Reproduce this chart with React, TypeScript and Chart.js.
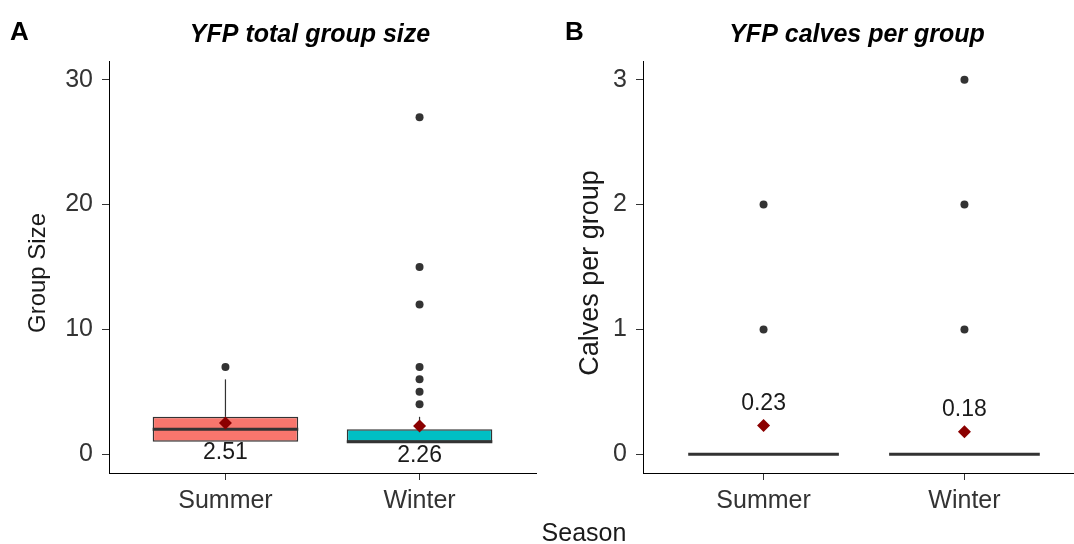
import React, { useEffect, useRef } from 'react';
import { Chart, registerables } from 'chart.js';

Chart.register(...registerables);

// ---------- data ----------
const categories = ['Summer', 'Winter'];
const boxColors = ['#F8766D', '#00BFC4'];

// Panel A: YFP total group size
const sizeQ1 = [1, 1];
const sizeMedian = [2, 1];
const sizeQ3 = [3, 2];
const sizeWhiskerLow = [1, 1];
const sizeWhiskerHigh = [6, 3];
const sizeOutliersSummer = [7];
const sizeOutliersWinter = [4, 5, 6, 7, 12, 15, 27];
const sizeMeans = [2.51, 2.26];
const sizeTicks = [0, 10, 20, 30];

// Panel B: YFP calves per group
const calfQ1 = [0, 0];
const calfMedian = [0, 0];
const calfQ3 = [0, 0];
const calfWhiskerLow = [0, 0];
const calfWhiskerHigh = [0, 0];
const calfOutliersSummer = [1, 2];
const calfOutliersWinter = [1, 2, 3];
const calfMeans = [0.23, 0.18];
const calfTicks = [0, 1, 2, 3];

const FONT = "'Liberation Sans', Arial, sans-serif";

type Panel = {
  letter: string;
  title: string;
  yTitle: string;
  q1: number[];
  med: number[];
  q3: number[];
  wLo: number[];
  wHi: number[];
  outliers: number[][];
  means: number[];
  ticks: number[];
  yMin: number;
  yMax: number;
  labelShift: number;
  canvasW: number;
  areaLeft: number;
  areaRight: number;
  letterX: number;
  titleX: number;
  yTitleX: number;
  yTitleSize: number;
  season: boolean;
};

const panelA: Panel = {
  letter: 'A',
  title: 'YFP total group size',
  yTitle: 'Group Size',
  q1: sizeQ1,
  med: sizeMedian,
  q3: sizeQ3,
  wLo: sizeWhiskerLow,
  wHi: sizeWhiskerHigh,
  outliers: [sizeOutliersSummer, sizeOutliersWinter],
  means: sizeMeans,
  ticks: sizeTicks,
  yMin: -1.5,
  yMax: 31.5,
  labelShift: -2.4,
  canvasW: 540,
  areaLeft: 109,
  areaRight: 536,
  letterX: 10,
  titleX: 310,
  yTitleX: 45,
  yTitleSize: 24,
  season: false,
};

const panelB: Panel = {
  letter: 'B',
  title: 'YFP calves per group',
  yTitle: 'Calves per group',
  q1: calfQ1,
  med: calfMedian,
  q3: calfQ3,
  wLo: calfWhiskerLow,
  wHi: calfWhiskerHigh,
  outliers: [calfOutliersSummer, calfOutliersWinter],
  means: calfMeans,
  ticks: calfTicks,
  yMin: -0.15,
  yMax: 3.15,
  labelShift: 0.175,
  canvasW: 545,
  areaLeft: 103,
  areaRight: 545,
  letterX: 25,
  titleX: 317,
  yTitleX: 58,
  yTitleSize: 27,
  season: true,
};

const H = 544;
const AREA_TOP = 61;
const AREA_BOTTOM = 473;

function makeChart(canvas: HTMLCanvasElement, p: Panel) {
  const extras = {
    id: 'boxExtras',
    beforeDatasetsDraw(chart: any) {
      const ctx = chart.ctx;
      const xs = chart.scales.x;
      const ys = chart.scales.y;
      ctx.save();
      ctx.strokeStyle = '#333333';
      ctx.lineWidth = 1.2;
      p.wHi.forEach((hi, i) => {
        const px = xs.getPixelForValue(i + 1);
        ctx.beginPath();
        ctx.moveTo(px, ys.getPixelForValue(p.q3[i]));
        ctx.lineTo(px, ys.getPixelForValue(hi));
        ctx.moveTo(px, ys.getPixelForValue(p.q1[i]));
        ctx.lineTo(px, ys.getPixelForValue(p.wLo[i]));
        ctx.stroke();
      });
      ctx.restore();
    },
    afterDatasetDraw(chart: any, args: any) {
      if (args.index !== 2) return;
      const ctx = chart.ctx;
      const ys = chart.scales.y;
      const meta = chart.getDatasetMeta(2);
      ctx.save();
      ctx.strokeStyle = '#333333';
      ctx.lineWidth = 3;
      meta.data.forEach((el: any, i: number) => {
        const props = el.getProps(['x', 'width'], true);
        const py = ys.getPixelForValue(p.med[i]);
        ctx.beginPath();
        ctx.moveTo(props.x - props.width / 2, py);
        ctx.lineTo(props.x + props.width / 2, py);
        ctx.stroke();
      });
      ctx.restore();
    },
    afterDraw(chart: any) {
      const ctx = chart.ctx;
      const xs = chart.scales.x;
      const ys = chart.scales.y;
      ctx.save();
      // mean labels
      ctx.fillStyle = '#1a1a1a';
      ctx.font = `23px ${FONT}`;
      ctx.textAlign = 'center';
      ctx.textBaseline = 'middle';
      p.means.forEach((m, i) => {
        ctx.fillText(m.toFixed(2), xs.getPixelForValue(i + 1), ys.getPixelForValue(m + p.labelShift));
      });
      // panel letter
      ctx.fillStyle = '#000';
      ctx.textBaseline = 'alphabetic';
      ctx.textAlign = 'left';
      ctx.font = `bold 26px ${FONT}`;
      ctx.fillText(p.letter, p.letterX, 40);
      // title
      ctx.textAlign = 'center';
      ctx.font = `italic bold 25px ${FONT}`;
      ctx.fillText(p.title, p.titleX, 42);
      // y title
      ctx.font = `${p.yTitleSize}px ${FONT}`;
      ctx.fillStyle = '#1a1a1a';
      ctx.save();
      ctx.translate(p.yTitleX, (AREA_TOP + AREA_BOTTOM) / 2 + 6);
      ctx.rotate(-Math.PI / 2);
      ctx.fillText(p.yTitle, 0, 0);
      ctx.restore();
      if (p.season) {
        ctx.font = `25px ${FONT}`;
        ctx.textAlign = 'center';
        ctx.fillText('Season', 44, 541);
      }
      ctx.restore();
    },
  };

  const outlierPts: { x: number; y: number }[] = [];
  p.outliers.forEach((arr, i) => arr.forEach((v) => outlierPts.push({ x: i + 1, y: v })));

  return new Chart(canvas, {
    type: 'bar',
    data: {
      datasets: [
        {
          type: 'scatter',
          data: p.means.map((m, i) => ({ x: i + 1, y: m })),
          pointStyle: 'rectRot',
          pointRadius: 6.5,
          backgroundColor: '#8B0000',
          borderColor: '#8B0000',
          borderWidth: 0,
          order: 0,
        } as any,
        {
          type: 'scatter',
          data: outlierPts,
          pointStyle: 'circle',
          pointRadius: 4,
          backgroundColor: '#333333',
          borderColor: '#333333',
          borderWidth: 0,
          order: 1,
        } as any,
        {
          type: 'bar',
          data: p.q1.map((q, i) => ({ x: i + 1, y: [q, p.q3[i]] })),
          backgroundColor: boxColors,
          borderColor: '#333333',
          borderWidth: 1.5,
          borderSkipped: false,
          categoryPercentage: 0.75,
          barPercentage: 1,
          order: 2,
        } as any,
      ],
    },
    options: {
      animation: false,
      responsive: false,
      events: [],
      layout: {
        autoPadding: false,
        padding: {
          left: 0,
          top: AREA_TOP,
          right: p.canvasW - p.areaRight,
          bottom: 0,
        },
      },
      plugins: {
        legend: { display: false },
        title: { display: false },
        tooltip: { enabled: false },
      },
      scales: {
        x: {
          type: 'linear',
          min: 0.4,
          max: 2.6,
          offset: false,
          afterBuildTicks: (scale: any) => {
            scale.ticks = categories.map((_, i) => ({ value: i + 1 }));
          },
          afterFit: (scale: any) => {
            scale.height = H - AREA_BOTTOM;
          },
          ticks: {
            callback: (v: any) => categories[Math.round(Number(v)) - 1],
            color: '#333333',
            font: { family: FONT, size: 25 },
            padding: 6,
            maxRotation: 0,
            autoSkip: false,
          },
          grid: {
            display: true,
            offset: false,
            drawOnChartArea: false,
            drawTicks: true,
            tickLength: 7,
            color: '#333333',
          },
          border: { display: true, color: '#000', width: 1 },
        },
        y: {
          type: 'linear',
          min: p.yMin,
          max: p.yMax,
          afterBuildTicks: (scale: any) => {
            scale.ticks = p.ticks.map((v) => ({ value: v }));
          },
          afterFit: (scale: any) => {
            scale.width = p.areaLeft;
          },
          ticks: {
            color: '#333333',
            font: { family: FONT, size: 25 },
            padding: 9,
            autoSkip: false,
          },
          grid: {
            display: true,
            drawOnChartArea: false,
            drawTicks: true,
            tickLength: 7,
            color: '#333333',
          },
          border: { display: true, color: '#000', width: 1 },
        },
      },
    } as any,
    plugins: [extras],
  });
}

function PanelChart({ panel, left }: { panel: Panel; left: number }) {
  const ref = useRef<HTMLCanvasElement | null>(null);
  useEffect(() => {
    if (!ref.current) return;
    const chart = makeChart(ref.current, panel);
    return () => chart.destroy();
  }, [panel]);
  return (
    <div style={{ position: 'absolute', left, top: 0, width: panel.canvasW, height: H }}>
      <canvas ref={ref} width={panel.canvasW} height={H} style={{ display: 'block' }} />
    </div>
  );
}

export default function App() {
  return (
    <div
      style={{
        position: 'fixed',
        left: 0,
        top: 0,
        width: 1074,
        height: H,
        overflow: 'hidden',
        background: '#ffffff',
      }}
    >
      <PanelChart panel={panelA} left={0} />
      <PanelChart panel={panelB} left={540} />
    </div>
  );
}
